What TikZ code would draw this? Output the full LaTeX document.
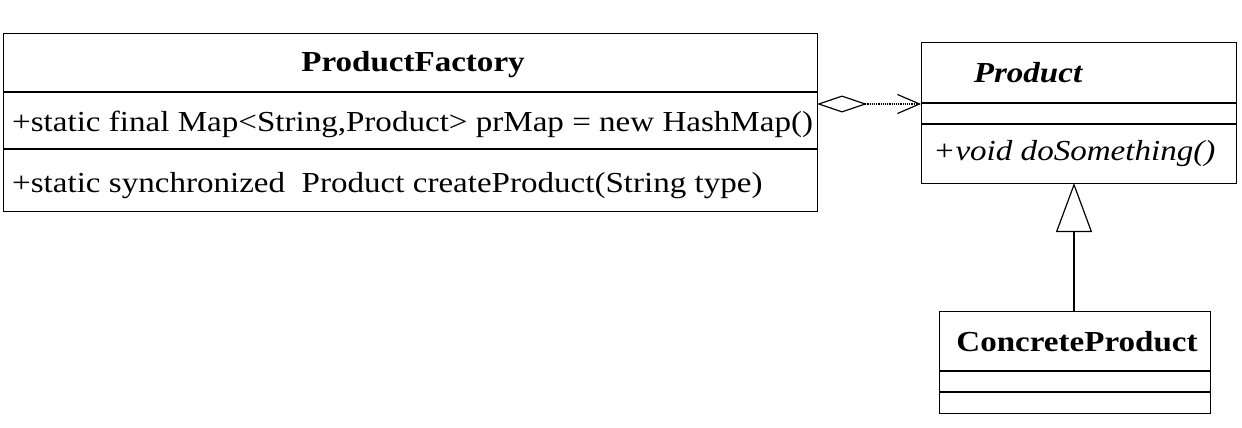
\documentclass[tikz,border=0pt]{standalone}
\usepackage{fontspec}
\setmainfont[FakeStretch=1.14]{Liberation Serif}
\usetikzlibrary{arrows.meta}
\tikzset{
  classbox/.style={draw, line width=1.3pt, rectangle, inner sep=0pt, anchor=north west},
  sep/.style={line width=1.3pt},
  txt/.style={inner sep=0pt, anchor=base, font=\fontsize{29}{33}\selectfont},
  conn/.style={line width=1.2pt},
}
\begin{document}
\begin{tikzpicture}[x=1pt,y=-1pt]
\useasboundingbox[fill=white] (0,0) rectangle (1242,428);
% ProductFactory
\node[classbox, minimum width=814pt, minimum height=178pt] (pf) at (3,33) {};
\draw[sep] (3,92) -- (817,92);
\draw[sep] (3,149) -- (817,149);
\node[txt, font=\fontsize{29}{33}\selectfont\bfseries] (pft) at (413,72) {ProductFactory};
\node[txt, anchor=base west] (pfa) at (12,131) {+static final Map<String,Product> prMap = new HashMap()};
\node[txt, anchor=base west] (pfm) at (12,192) {+static synchronized\ \ Product createProduct(String type)};
% Product
\node[classbox, minimum width=315pt, minimum height=141pt] (p) at (921,42) {};
\draw[sep] (921,103) -- (1236,103);
\draw[sep] (921,124) -- (1236,124);
\node[txt, font=\fontsize{29}{33}\selectfont\bfseries\itshape] (pt) at (1028,82) {Product};
\node[txt, anchor=base west, font=\fontsize{29}{33}\selectfont\itshape] (pm) at (933,160) {+void doSomething()};
% ConcreteProduct
\node[classbox, minimum width=271pt, minimum height=102pt] (cp) at (939,311) {};
\draw[sep] (939,371) -- (1210,371);
\draw[sep] (939,392) -- (1210,392);
\node[txt, font=\fontsize{29}{33}\selectfont\bfseries] (cpt) at (1077,351) {ConcreteProduct};
% connectors
\coordinate (aggS) at (817,104);
\coordinate (aggE) at (921,104);
\draw[conn, densely dotted, {Diamond[open, length=50pt, width=17pt, line width=1.2pt]}-{Straight Barb[length=22pt, width=19pt, line width=1.2pt]}] (aggS) -- (aggE);
\coordinate (genT) at (1074,183);
\draw[conn, -{Triangle[open, length=49pt, width=36pt, line width=1.2pt]}] (cp.north -| genT) -- (genT);
\end{tikzpicture}
\end{document}
